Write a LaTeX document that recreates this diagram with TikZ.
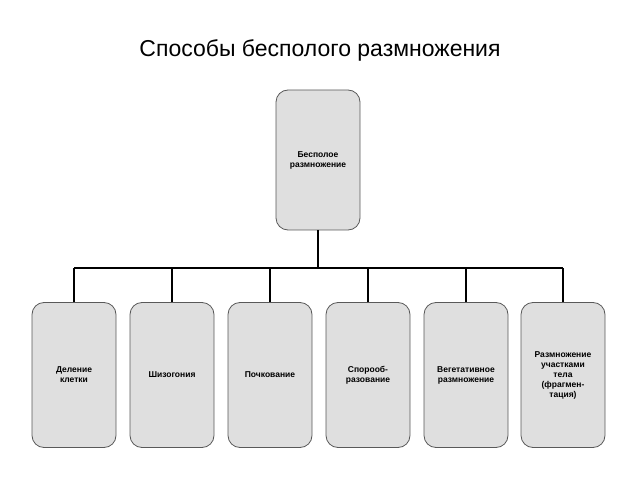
\documentclass[tikz,border=0pt]{standalone}
\usepackage{fontspec}
\setmainfont{Liberation Sans}
\begin{document}
\begin{tikzpicture}[x=1pt,y=1pt,
 box/.style={draw=gray!70!black,line width=0.8pt,fill=gray!25,rounded corners=12pt,minimum width=84pt,minimum height=145pt,align=center,font=\bfseries\fontsize{8.5}{10}\selectfont,text width=76pt},
 conn/.style={line width=1.4pt}]
\useasboundingbox (0,0) rectangle (640,480);
\node[font=\fontsize{23}{27}\selectfont] (title) at (320,430) {Способы бесполого размножения};
\node[box,minimum height=140pt] (top) at (318,320) {Бесполое\\размножение};
\node[box] (b1) at (74,105) {Деление\\клетки};
\node[box] (b2) at (172,105) {Шизогония};
\node[box] (b3) at (270,105) {Почкование};
\node[box] (b4) at (368,105) {Спорооб-\\разование};
\node[box] (b5) at (466,105) {Вегетативное\\размножение};
\node[box] (b6) at (563,105) {Размножение\\участками\\тела\\(фрагмен-\\тация)};
\coordinate (bus) at (318,212);
\draw[conn] (top.south) -- (bus);
\foreach \b in {b1,b2,b3,b4,b5,b6} \draw[conn] (\b.north) -- (\b.north |- bus);
\draw[conn] (b1.north |- bus) -- (b6.north |- bus);
\end{tikzpicture}
\end{document}
